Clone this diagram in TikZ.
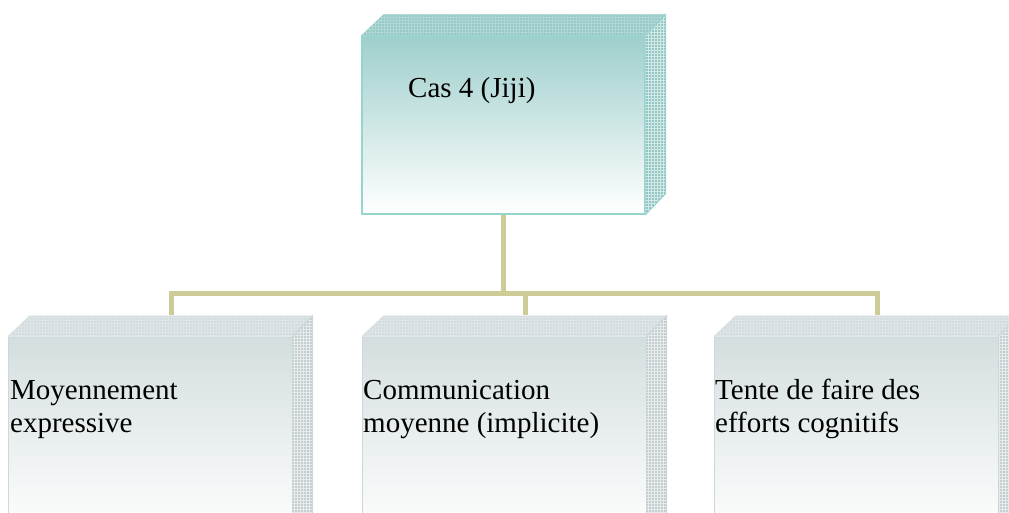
\documentclass[tikz,border=0pt]{standalone}
\usepackage{fontspec}
\setmainfont{Liberation Serif}
\usetikzlibrary{patterns,calc}
\definecolor{tealtop}{RGB}{150,202,199}
\definecolor{tealface}{RGB}{158,207,204}
\definecolor{tealside}{RGB}{146,198,195}
\definecolor{tealline}{RGB}{150,212,207}
\definecolor{greytop}{RGB}{210,220,222}
\definecolor{greyface}{RGB}{212,222,223}
\definecolor{greyside}{RGB}{196,206,208}
\definecolor{greyline}{RGB}{205,216,218}
\definecolor{khaki}{RGB}{205,203,150}
\newcommand\bevelbox[4]{%
  \fill[#2] (#1.north west) -- ++(22,-21) -- ($(#1.north east)+(20,-21)$) -- (#1.north east) -- cycle;
  \fill[pattern=grid, pattern color=white!25!#2] (#1.north west) -- ++(22,-21) -- ($(#1.north east)+(20,-21)$) -- (#1.north east) -- cycle;
  \fill[#3] (#1.north east) -- ++(20,-21) -- ($(#1.south east)+(20,-21)$) -- (#1.south east) -- cycle;
  \fill[pattern=grid, pattern color=white!60!#3] (#1.north east) -- ++(20,-21) -- ($(#1.south east)+(20,-21)$) -- (#1.south east) -- cycle;
  \draw[#4, line width=1pt] (#1.north east) -- ++(20,-21) -- ($(#1.south east)+(20,-21)$) -- (#1.south east);
}
\begin{document}
\begin{tikzpicture}[x=1pt,y=-1pt,
  topface/.style={rectangle, inner sep=0pt, minimum width=283pt, minimum height=178pt,
    top color=tealface, bottom color=white, draw=tealline, line width=1.2pt},
  subface/.style={rectangle, inner sep=0pt, minimum width=284pt, minimum height=200pt,
    top color=greyface, bottom color=white, draw=greyline, line width=1pt},
  conn/.style={draw=khaki, line width=5pt},
  lbl/.style={font=\fontsize{29}{33}\selectfont, anchor=base west, inner sep=0pt, align=left, text=black}]
\useasboundingbox (0,0) rectangle (1009,512);
\clip (0,0) rectangle (1009,512);

% top box
\node[topface] (top) at (503.5,125) {};
\bevelbox{top}{tealtop}{tealside}{tealline}
\node[lbl] (t0) at (408,97) {Cas 4 (Jiji)};

% bottom boxes
\node[subface] (b1) at (150,437) {};
\node[subface] (b2) at (504,437) {};
\node[subface] (b3) at (856,437) {};
\bevelbox{b1}{greytop}{greyside}{greyline}
\bevelbox{b2}{greytop}{greyside}{greyline}
\bevelbox{b3}{greytop}{greyside}{greyline}
\node[lbl] (t1) at (10,432) {Moyennement\\expressive};
\node[lbl] (t2) at (363,432) {Communication\\moyenne (implicite)};
\node[lbl] (t3) at (715,432) {Tente de faire des\\efforts cognitifs};

% connectors
\coordinate (b1t) at ($(b1.north)+(21,-22)$);
\coordinate (b2t) at ($(b2.north)+(21,-22)$);
\coordinate (b3t) at ($(b3.north)+(21,-22)$);
\coordinate (hub) at ($(top.south)+(0,79)$);
\draw[conn] (top.south) -- (hub);
\draw[conn] (b1t) -- (b1t |- hub) -- (b3t |- hub) -- (b3t);
\draw[conn] (b2t |- hub) -- (b2t);
\end{tikzpicture}
\end{document}
